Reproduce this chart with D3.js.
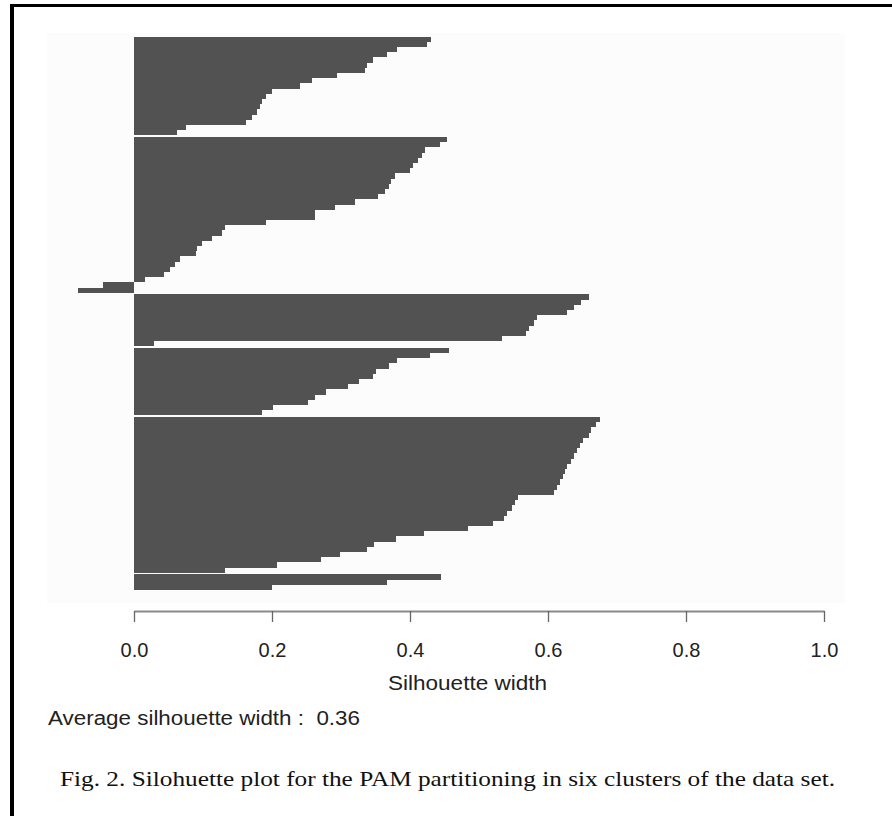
<!DOCTYPE html>
<html><head><meta charset="utf-8">
<script src="https://cdn.jsdelivr.net/npm/d3@7"></script>
<style>body{margin:0;background:#fff;} svg{display:block;}</style>
</head><body>
<script>
// Silhouette widths per cluster, sorted within each cluster (top to bottom)
const cluster1 = [0.431,0.424,0.381,0.366,0.347,0.337,0.335,0.294,0.258,0.241,0.200,0.192,0.185,0.183,0.178,0.171,0.163,0.076,0.062];
const cluster2 = [0.453,0.444,0.422,0.417,0.412,0.405,0.400,0.378,0.373,0.369,0.364,0.354,0.320,0.291,0.262,0.262,0.192,0.132,0.127,0.113,0.098,0.091,0.090,0.067,0.060,0.052,0.043,0.016,-0.045,-0.081];
const cluster3 = [0.659,0.648,0.637,0.627,0.584,0.579,0.572,0.568,0.534,0.029];
const cluster4 = [0.456,0.429,0.381,0.370,0.351,0.347,0.326,0.310,0.278,0.262,0.252,0.201,0.185];
const cluster5 = [0.675,0.670,0.663,0.660,0.650,0.646,0.642,0.637,0.634,0.628,0.625,0.622,0.617,0.613,0.609,0.556,0.552,0.548,0.540,0.536,0.520,0.484,0.420,0.379,0.348,0.337,0.298,0.271,0.207,0.132];
const cluster6 = [0.445,0.367,0.200];
const xTicks = [0.0,0.2,0.4,0.6,0.8,1.0];
const xLabel = "Silhouette width";
const avgLabel = "Average silhouette width :  0.36";
const caption = "Fig. 2. Silohuette plot for the PAM partitioning in six clusters of the data set.";

const W = 892, H = 816;
const svg = d3.select("body").append("svg").attr("width", W).attr("height", H);
svg.append("rect").attr("width", W).attr("height", H).attr("fill", "#fff");
// faint plot region
svg.append("rect").attr("x", 47).attr("y", 33).attr("width", 798).attr("height", 570).attr("fill", "#fcfcfc");

const x = d3.scaleLinear().domain([0, 1]).range([134, 824]);
const clusters = [cluster1, cluster2, cluster3, cluster4, cluster5, cluster6];
const gapUnits = 0.3;
const rows = [];
let pos = 0;
clusters.forEach((vals, ci) => {
  if (ci > 0) pos += gapUnits;
  vals.forEach(v => { rows.push({ci, v, pos}); pos += 1; });
});
const y = d3.scaleLinear().domain([0, pos]).range([36.7, 590]);

svg.append("g").selectAll("rect").data(rows).join("rect")
  .attr("x", d => x(Math.min(0, d.v)))
  .attr("width", d => Math.abs(x(d.v) - x(0)))
  .attr("y", d => y(d.pos))
  .attr("height", d => y(d.pos + 1) - y(d.pos))
  .attr("fill", "#525252")
  .attr("shape-rendering", "crispEdges");

const ax = svg.append("g").attr("transform", "translate(0,611)")
  .call(d3.axisBottom(x).tickValues(xTicks).tickFormat(d3.format(".1f")).tickSize(11).tickSizeOuter(0));
ax.attr("font-family", "'Liberation Sans', Arial, sans-serif").attr("font-size", 20);
ax.select(".domain").attr("stroke", "#8a8a8a").attr("stroke-width", 2);
ax.selectAll(".tick line").attr("stroke", "#666").attr("stroke-width", 1.3);
ax.selectAll(".tick text").attr("fill", "#222").attr("y", 46).attr("dy", 0);

svg.append("text").attr("x", 467.5).attr("y", 690).attr("text-anchor", "middle")
  .attr("font-family", "'Liberation Sans', Arial, sans-serif").attr("font-size", 20).attr("fill", "#222")
  .attr("textLength", 159).attr("lengthAdjust", "spacingAndGlyphs").text(xLabel);

svg.append("text").attr("x", 48).attr("y", 725)
  .attr("font-family", "'Liberation Sans', Arial, sans-serif").attr("font-size", 20).attr("fill", "#222")
  .attr("xml:space", "preserve")
  .attr("textLength", 312).attr("lengthAdjust", "spacingAndGlyphs").text(avgLabel);

svg.append("text").attr("x", 60).attr("y", 786)
  .attr("font-family", "'Liberation Serif', 'Times New Roman', serif").attr("font-size", 22).attr("fill", "#111")
  .attr("textLength", 775).attr("lengthAdjust", "spacingAndGlyphs").text(caption);

// frame (top and left)
svg.append("rect").attr("x", 10).attr("y", 4).attr("width", W - 10).attr("height", 3).attr("fill", "#000");
svg.append("rect").attr("x", 10).attr("y", 4).attr("width", 4).attr("height", H - 4).attr("fill", "#000");
</script>
</body></html>
